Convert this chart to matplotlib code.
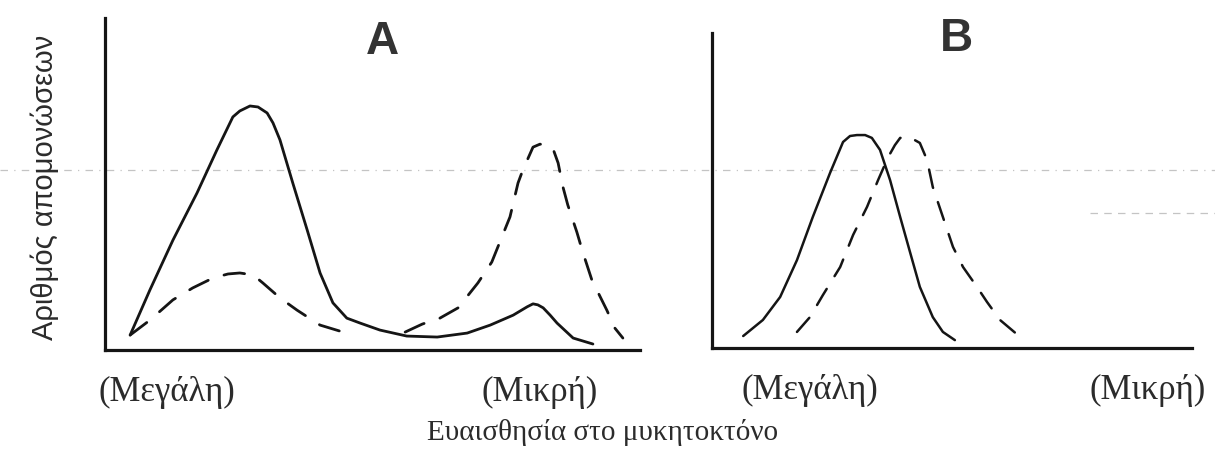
import numpy as np
import matplotlib
matplotlib.use("Agg")
import matplotlib.pyplot as plt
from matplotlib.lines import Line2D

# Panel A: solid curve
a_solid_x = [4.7, 8.4, 12.7, 17.2, 20.9, 23.9, 25.2, 27.1, 28.6, 30.3, 31.4, 32.7,
             35.1, 37.8, 40.2, 42.6, 45.2, 47.7, 51.4, 56.4, 62.1, 67.7, 72.0,
             76.3, 78.9, 80.0, 80.9, 81.9, 83.2, 84.5, 87.5, 91.2]
a_solid_y = [4.5, 18.1, 33.1, 47.3, 60.2, 70.2, 72.0, 73.5, 73.2, 71.4, 68.4, 63.3,
             50.3, 36.1, 23.2, 14.2, 9.6, 8.1, 6.0, 4.2, 3.9, 5.1, 7.5,
             10.5, 13.0, 13.9, 13.6, 12.7, 10.5, 8.1, 3.6, 1.8]

# Panel A: dashed curve (two humps, broken in the middle)
a_dash_x = [4.7, 8.4, 12.7, 16.4, 20.2, 23.0, 25.2, 27.7, 29.5, 32.7, 35.9, 40.2,
            44.5, 50.3, 56.1, 59.3, 62.6, 66.0, 69.7, 72.3, 73.8, 75.7, 77.2,
            78.1, 80.0, 81.3, 82.6, 83.7, 84.7, 85.6, 86.5, 88.2, 89.3, 91.0,
            93.8, 95.3, 96.8]
a_dash_y = [4.5, 9.0, 15.1, 18.7, 21.7, 22.9, 23.2, 22.6, 20.2, 15.7, 12.0, 7.5,
            5.4, np.nan, 5.4, 7.8, 9.6, 12.7, 20.2, 26.5, 32.5, 40.1, 50.3,
            54.2, 61.1, 62.0, 61.7, 60.8, 56.3, 49.1, 43.7, 35.5, 29.5, 21.1,
            12.0, 6.6, 3.6]

# Panel B: solid curve
b_solid_x = [6.5, 10.6, 14.2, 17.7, 21.0, 24.6, 27.3, 28.75, 30.2, 31.9, 33.3,
             35.0, 37.1, 39.2, 41.3, 43.3, 46.0, 48.1, 50.6]
b_solid_y = [3.8, 8.9, 16.2, 27.9, 41.6, 55.6, 65.4, 67.3, 67.6, 67.6, 66.7,
             62.9, 53.3, 41.6, 30.2, 19.4, 9.8, 5.1, 2.5]

# Panel B: dashed curve
b_dash_x = [17.7, 20.4, 23.1, 26.7, 29.4, 32.3, 34.6, 36.7, 38.1, 39.2, 40.6,
            41.9, 43.3, 44.8, 46.0, 48.1, 50.2, 52.3, 55.2, 57.3, 60.0, 64.2]
b_dash_y = [5.1, 9.8, 16.8, 25.7, 35.9, 44.8, 53.3, 60.6, 64.4, 66.7, 66.7,
            66.3, 65.1, 59.7, 51.1, 41.6, 32.1, 25.7, 19.4, 14.6, 8.9, 3.5]

a_ticks = [11.6, 81.3]
b_ticks = [20.4, 90.8]
tick_labels = ["(Μεγάλη)", "(Μικρή)"]

ink = "#151515"
text_col = "#2b2b2b"
serif = ["Liberation Serif", "DejaVu Serif"]

fig = plt.figure(figsize=(12.15, 4.51), dpi=100)
W, H = 1215, 451

def px_axes(left, top, right, bottom):
    return fig.add_axes([left / W, 1 - bottom / H, (right - left) / W, (bottom - top) / H])

ax_a = px_axes(105, 18, 640, 350)
ax_b = px_axes(712, 33, 1192, 348)

for ax, ticks in ((ax_a, a_ticks), (ax_b, b_ticks)):
    ax.set_xlim(0, 100)
    ax.set_ylim(0, 100)
    for side in ("top", "right"):
        ax.spines[side].set_visible(False)
    for side in ("left", "bottom"):
        ax.spines[side].set_linewidth(2.3)
        ax.spines[side].set_color(ink)
    ax.set_yticks([])
    ax.set_xticks(ticks)
    ax.set_xticklabels(tick_labels, family=serif, fontsize=25, color=text_col)
    ax.tick_params(axis="x", length=0, pad=19)
    ax.patch.set_alpha(0)

dash = (0, (7.5, 6.0))
line_kw = dict(color=ink, solid_capstyle="round", solid_joinstyle="round",
               dash_capstyle="round", dash_joinstyle="round")
ax_a.plot(a_solid_x, a_solid_y, lw=2.0, **line_kw)
ax_a.plot(a_dash_x, a_dash_y, lw=2.0, linestyle=dash, **line_kw)
ax_b.plot(b_solid_x, b_solid_y, lw=1.8, **line_kw)
ax_b.plot(b_dash_x, b_dash_y, lw=1.8, linestyle=dash, **line_kw)

# panel letters
fig.text(382 / W, 1 - 42 / H, "A", ha="center", va="center", fontsize=33,
         fontweight="bold", family=["Liberation Sans", "DejaVu Sans"], color="#333333")
fig.text(956 / W, 1 - 39 / H, "B", ha="center", va="center", fontsize=33,
         fontweight="bold", family=["Liberation Sans", "DejaVu Sans"], color="#333333")

# shared axis titles
fig.text(603 / W, 1 - 432 / H, "Ευαισθησία στο μυκητοκτόνο", ha="center", va="center",
         fontsize=21, family=serif, color=text_col)
fig.text(45 / W, 1 - 187 / H, "Αριθμός απομονώσεων", ha="center", va="center",
         rotation=90, fontsize=21, family=["Liberation Sans Narrow", "Liberation Sans", "DejaVu Sans"],
         color=text_col)

# faint ruled lines running across the page
fig.add_artist(Line2D([0, 1], [1 - 170 / H] * 2, transform=fig.transFigure,
                      color="#c4c4c4", lw=0.9, linestyle=(0, (6, 5, 1, 5)), zorder=0))
fig.add_artist(Line2D([1090 / W, 1], [1 - 213 / H] * 2, transform=fig.transFigure,
                      color="#c4c4c4", lw=0.9, linestyle=(0, (6, 5)), zorder=0))

fig.savefig("out.png", dpi=100, facecolor="white")
